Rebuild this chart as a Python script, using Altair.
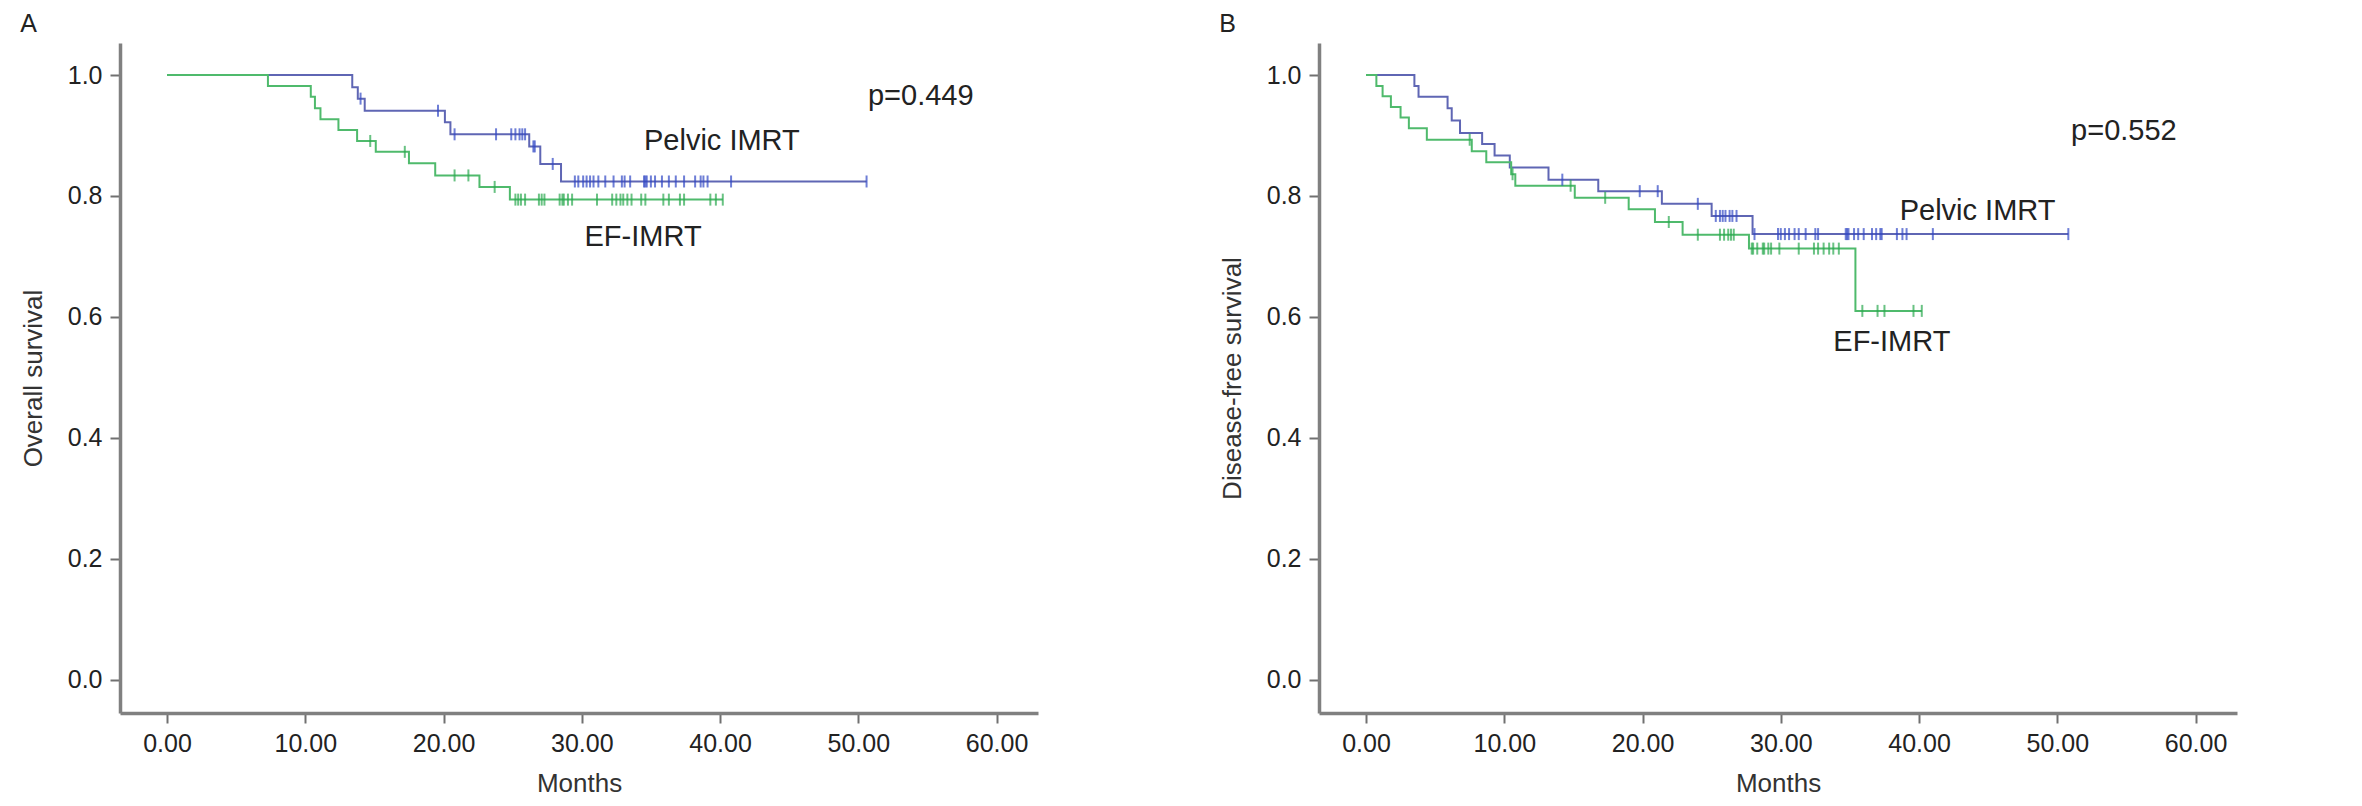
import altair as alt
import pandas as pd

FONT = "Liberation Sans"

# ---------------- data ----------------
groups = ["Pelvic IMRT", "EF-IMRT"]

# Panel A: overall survival
os_pelvic_event_t = [13.4, 13.8, 14.3, 20.1, 20.5, 26.2, 27.0, 28.5]
os_pelvic_event_s = [0.980, 0.961, 0.941, 0.922, 0.902, 0.882, 0.853, 0.824]
os_pelvic_censor_t = [14.0, 19.6, 20.8, 23.8, 24.9, 25.2, 25.5, 25.7, 25.9, 26.5, 26.6, 27.9,
                      29.5, 29.75, 30.1, 30.35, 30.6, 30.85, 31.2, 31.7, 32.3, 32.9, 33.1, 33.5,
                      34.5, 34.6, 34.7, 35.0, 35.3, 35.8, 36.3, 36.8, 37.4, 38.2, 38.6, 38.8,
                      39.1, 40.8, 50.6]
os_ef_event_t = [7.3, 10.4, 10.7, 11.1, 12.4, 13.75, 15.1, 17.5, 19.4, 22.6, 24.8]
os_ef_event_s = [0.982, 0.964, 0.945, 0.927, 0.909, 0.891, 0.873, 0.854, 0.834, 0.815, 0.794]
os_ef_censor_t = [14.7, 17.2, 20.8, 21.8, 23.7, 25.2, 25.4, 25.6, 25.9, 26.9, 27.1, 27.3,
                  28.4, 28.6, 28.7, 29.0, 29.3, 31.1, 32.2, 32.5, 32.8, 33.0, 33.3, 33.6,
                  34.3, 34.6, 35.9, 36.3, 37.1, 37.4, 39.3, 39.7, 40.2]

# Panel B: disease-free survival
dfs_pelvic_event_t = [3.5, 3.8, 5.9, 6.2, 6.8, 8.4, 9.3, 10.4, 13.2, 16.8, 21.4, 25.0, 27.96]
dfs_pelvic_event_s = [0.982, 0.964, 0.945, 0.925, 0.904, 0.886, 0.867, 0.847, 0.827, 0.808,
                      0.787, 0.767, 0.737]
dfs_pelvic_censor_t = [14.2, 19.8, 21.1, 24.0, 25.3, 25.6, 25.8, 26.0, 26.3, 26.5, 26.8, 28.1,
                       29.8, 30.0, 30.3, 30.6, 31.0, 31.3, 31.8, 32.5, 32.7, 34.7, 34.8, 34.9,
                       35.3, 35.6, 36.0, 36.6, 36.9, 37.2, 37.3, 38.4, 38.8, 39.1, 41.0, 50.8]
dfs_ef_event_t = [0.75, 1.2, 1.8, 2.5, 3.1, 4.4, 7.65, 8.7, 10.5, 10.8, 15.1, 19.0, 20.9,
                  22.9, 27.7, 35.4]
dfs_ef_event_s = [0.982, 0.965, 0.947, 0.930, 0.912, 0.893, 0.874, 0.856, 0.836, 0.817,
                  0.797, 0.778, 0.757, 0.736, 0.713, 0.610]
dfs_ef_censor_t = [7.5, 10.6, 14.8, 17.3, 21.9, 24.0, 25.6, 25.9, 26.2, 26.4, 26.6, 27.9,
                   28.0, 28.3, 28.7, 28.8, 29.1, 29.3, 29.9, 31.3, 32.4, 32.7, 33.1, 33.5,
                   33.8, 34.2, 35.9, 37.0, 37.5, 39.6, 40.2]

# annotations: text, months, survival
ann_a_text = ["p=0.449", "Pelvic IMRT", "EF-IMRT"]
ann_a_t = [50.7, 34.5, 30.2]
ann_a_s = [0.965, 0.891, 0.732]
ann_b_text = ["p=0.552", "Pelvic IMRT", "EF-IMRT"]
ann_b_t = [51.0, 38.6, 33.8]
ann_b_s = [0.907, 0.775, 0.558]

x_ticks = [0, 10, 20, 30, 40, 50, 60]
y_ticks = [0.0, 0.2, 0.4, 0.6, 0.8, 1.0]

LINE_COLORS = ["#5f66b4", "#4fba6c"]
CENSOR_COLORS = ["#3047c4", "#2aa84e"]


def km_frames(ev_t, ev_s, cen_t, group):
    end_t = max(cen_t + ev_t)
    end_s = ev_s[-1]
    line = [{"t": 0.0, "s": 1.0, "g": group}]
    line += [{"t": t, "s": s, "g": group} for t, s in zip(ev_t, ev_s)]
    line.append({"t": end_t, "s": end_s, "g": group})

    def surv(t):
        s = 1.0
        for et, es in zip(ev_t, ev_s):
            if et <= t:
                s = es
        return s

    cens = [{"t": t, "s": surv(t), "g": group} for t in cen_t]
    return line, cens


def panel(pel, ef, ann_text, ann_t, ann_s, ytitle, letter):
    l1, c1 = km_frames(*pel, groups[0])
    l2, c2 = km_frames(*ef, groups[1])
    lines = pd.DataFrame(l1 + l2)
    cens = pd.DataFrame(c1 + c2)
    ann = pd.DataFrame({"text": ann_text, "t": ann_t, "s": ann_s})

    xs = alt.Scale(domain=[-3.4, 63.0], nice=False, zero=False)
    ys = alt.Scale(domain=[-0.055, 1.053], nice=False, zero=False)
    xax = alt.Axis(values=x_ticks, format=".2f", title="Months")
    yax = alt.Axis(values=y_ticks, format=".1f", title=ytitle)

    line_layer = alt.Chart(lines).mark_line(interpolate="step-after", strokeWidth=2).encode(
        x=alt.X("t:Q", scale=xs, axis=xax),
        y=alt.Y("s:Q", scale=ys, axis=yax),
        color=alt.Color("g:N", scale=alt.Scale(domain=groups, range=LINE_COLORS), legend=None),
        detail="g:N",
    )
    cen_layer = alt.Chart(cens).mark_tick(orient="vertical", size=12, thickness=2).encode(
        x=alt.X("t:Q", scale=xs),
        y=alt.Y("s:Q", scale=ys),
        color=alt.Color("g:N", scale=alt.Scale(domain=groups, range=CENSOR_COLORS), legend=None),
    )
    txt = alt.Chart(ann).mark_text(align="left", baseline="middle", fontSize=29, font=FONT,
                                   color="#222222").encode(
        x=alt.X("t:Q", scale=xs),
        y=alt.Y("s:Q", scale=ys),
        text="text:N",
    )
    return alt.layer(line_layer, cen_layer, txt).resolve_scale(color="independent").properties(
        width=918, height=670,
        title=alt.TitleParams(letter, anchor="start", fontSize=25, font=FONT,
                              fontWeight="normal", color="#222222", offset=6),
    )


pa = panel((os_pelvic_event_t, os_pelvic_event_s, os_pelvic_censor_t),
           (os_ef_event_t, os_ef_event_s, os_ef_censor_t),
           ann_a_text, ann_a_t, ann_a_s, "Overall survival", "A")
pb = panel((dfs_pelvic_event_t, dfs_pelvic_event_s, dfs_pelvic_censor_t),
           (dfs_ef_event_t, dfs_ef_event_s, dfs_ef_censor_t),
           ann_b_text, ann_b_t, ann_b_s, "Disease-free survival", "B")

chart = alt.hconcat(pa, pb, spacing=181).properties(
    padding={"left": 12, "top": 4, "right": 5, "bottom": 5}
).configure_view(strokeWidth=0).configure_axis(
    grid=False,
    domainColor="#808080",
    domainWidth=3.5,
    tickColor="#707070",
    tickSize=10,
    tickWidth=2,
    labelFont=FONT,
    titleFont=FONT,
    labelFontSize=25,
    labelColor="#222222",
    titleColor="#333333",
    titleFontWeight="normal",
    labelPadding=8,
).configure_axisY(titlePadding=21, titleFontSize=26).configure_axisX(titlePadding=14,
                                                                      titleFontSize=26)

chart.save("out.html", embed_options={"renderer": "svg", "actions": False})
